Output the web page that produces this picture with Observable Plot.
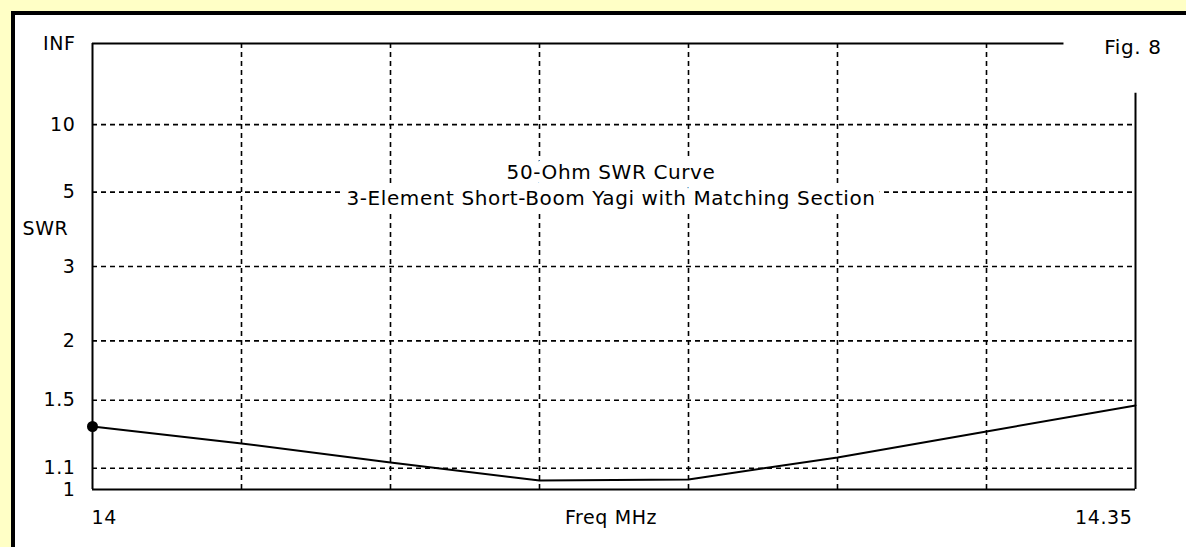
<!DOCTYPE html>
<html><head><meta charset="utf-8">
<script src="https://cdn.jsdelivr.net/npm/d3@7"></script>
<script src="https://cdn.jsdelivr.net/npm/@observablehq/plot@0.6"></script>
<style>
html,body{margin:0;padding:0;background:#FFFFC6;width:1186px;height:547px;overflow:hidden;}
#frame{position:absolute;left:11px;top:11px;right:0;bottom:0;background:#fff;border-top:4px solid #000;border-left:4px solid #000;}
#chart{position:absolute;left:0;top:0;}
#chart text{letter-spacing:0.6px;}
</style></head><body>
<div id="frame"></div><div id="chart"></div>
<script>
// ---- data ----
const freqMHz   = [14.00, 14.05, 14.10, 14.15, 14.20, 14.25, 14.30, 14.35];
const swrValues = [1.329, 1.230, 1.129, 1.041, 1.046, 1.155, 1.299, 1.464];
const swrTicks      = [1, 1.1, 1.5, 2, 3, 5, 10, Infinity];
const swrTickLabels = ["1", "1.1", "1.5", "2", "3", "5", "10", "INF"];
const freqGrid      = [14.05, 14.10, 14.15, 14.20, 14.25, 14.30];
const freqEnds      = [14, 14.35];
const freqEndLabels = ["14", "14.35"];
const titleLines    = ["50-Ohm SWR Curve", "3-Element Short-Boom Yagi with Matching Section"];
const yLabel = "SWR", xLabel = "Freq MHz", figLabel = "Fig. 8";
// top border stops short of the figure label, right border starts below it
const topBorderEnd = 14.326, rightBorderTopSwr = 16.9;

// SWR scale drawn linear in reflection coefficient
const rho = s => s === Infinity ? 1 : (s - 1) / (s + 1);

const pts = freqMHz.map((f, i) => ({f, r: rho(swrValues[i])}));
const yt = swrTicks.map((s, i) => ({r: rho(s), label: swrTickLabels[i]}));
const gridY = yt.filter(d => d.r > 0 && d.r < 1);
const [f0, f1] = freqEnds;
const font = "DejaVu Sans";
const txt = {fill: "#000", fontFamily: font, fontSize: 19};

const chart = Plot.plot({
  width: 1186, height: 547,
  marginLeft: 92, marginRight: 51, marginTop: 43, marginBottom: 58,
  style: {background: "transparent", fontFamily: font},
  x: {domain: [f0, f1], axis: null},
  y: {domain: [0, 1], axis: null},
  marks: [
    Plot.ruleY(gridY, {y: "r", x1: f0, x2: f1, stroke: "#000", strokeWidth: 1.6, strokeDasharray: "5,4"}),
    Plot.ruleX(freqGrid, {x: d => d, y1: 0, y2: 1, stroke: "#000", strokeWidth: 1.6, strokeDasharray: "5,4"}),
    Plot.ruleX([f0], {y1: 0, y2: 1, stroke: "#000", strokeWidth: 2}),
    Plot.ruleY([0], {x1: f0, x2: f1, stroke: "#000", strokeWidth: 2}),
    Plot.ruleY([1], {x1: f0, x2: topBorderEnd, stroke: "#000", strokeWidth: 2}),
    Plot.ruleX([f1], {y1: 0, y2: rho(rightBorderTopSwr), stroke: "#000", strokeWidth: 2}),
    Plot.text([titleLines.join("\n")], {frameAnchor: "top", dy: 140, lineAnchor: "middle", lineHeight: 1.32,
      fontSize: 20, fill: "#000", stroke: "#fff", strokeWidth: 16, strokeLinejoin: "round", fontFamily: font, dx: -3}),
    Plot.line(pts, {x: "f", y: "r", stroke: "#000", strokeWidth: 2}),
    Plot.dot(pts.slice(0, 1), {x: "f", y: "r", r: 5.5, fill: "#000", stroke: "none"}),
    Plot.text(yt, {x: f0, y: "r", text: "label", textAnchor: "end", dx: -17, ...txt}),
    Plot.text([yLabel], {x: f0, y: rho(3.8), textAnchor: "start", dx: -70, ...txt}),
    Plot.text([freqEndLabels[0]], {x: f0, y: 0, textAnchor: "start", dy: 28, dx: -1, ...txt}),
    Plot.text([freqEndLabels[1]], {x: f1, y: 0, textAnchor: "end", dy: 28, dx: -3, ...txt}),
    Plot.text([xLabel], {x: (f0 + f1) / 2, y: 0, dy: 28, dx: -3, ...txt}),
    Plot.text([figLabel], {x: f1, y: 1, dx: 26, dy: 4, textAnchor: "end", ...txt, fontSize: 20})
  ]
});
document.getElementById("chart").append(chart);
</script>
</body></html>
